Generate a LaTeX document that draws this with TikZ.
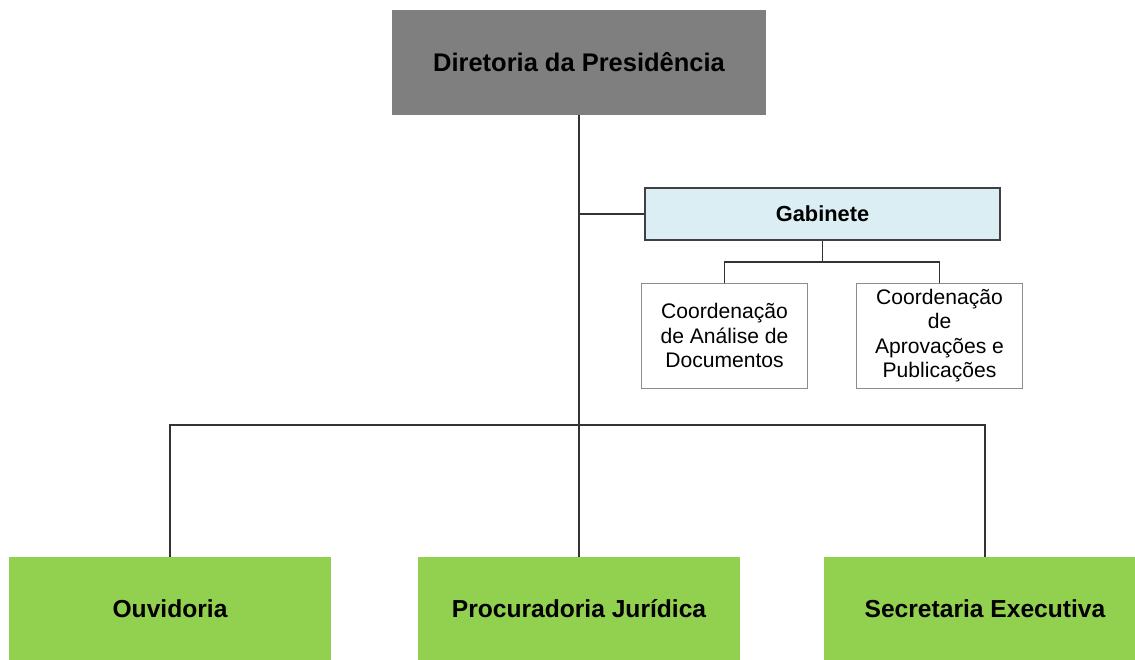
\documentclass[tikz,border=0pt]{standalone}
\usepackage{fontspec}
\setmainfont{Liberation Sans}
\definecolor{diretoria}{HTML}{7F7F7F}
\definecolor{gabinete}{HTML}{DAEEF3}
\definecolor{verde}{HTML}{92D050}
\begin{document}
\begin{tikzpicture}[
        linha/.style={draw=black!80, line width=0.8pt},
        unidade/.style={fill=verde, minimum width=6.44cm, minimum height=2.06cm, inner sep=0pt,
            font=\fontsize{14}{17}\selectfont\bfseries},
        coordbox/.style={draw=black!45, fill=white, minimum width=3.32cm, minimum height=2.1cm,
            inner sep=0pt, align=center, font=\fontsize{12}{13.8}\selectfont}
    ]
        \useasboundingbox (0,0) rectangle (22.7,13.2);

        \node [fill=diretoria, minimum width=7.48cm, minimum height=2.1cm, inner sep=0pt,
            font=\fontsize{14.5}{17}\selectfont\bfseries] (dir) at (11.58,11.95) {Diretoria da Presidência};
        \node [fill=gabinete, draw=black!75, line width=0.8pt, minimum width=7.1cm, minimum height=1.04cm,
            inner sep=0pt, font=\fontsize{12.4}{15}\selectfont\bfseries] (gab) at (16.45,8.92) {Gabinete};

        \node [coordbox] (cad) at (14.49,6.49) {Coordenação\\de Análise de\\Documentos};
        \node [coordbox] (cap) at (18.79,6.49) {Coordenação\\de\\Aprovações e\\Publicações};

        \node [unidade] (ouv) at (3.4,1.03) {Ouvidoria};
        \node [unidade] (proc) at (11.58,1.03) {Procuradoria Jurídica};
        \node [unidade] (sec) at (19.7,1.03) {Secretaria Executiva};

        \coordinate (meio) at (11.58,4.7);
        \coordinate (gj) at (16.45,7.96);

        % linha principal
        \draw [linha] (dir.south) -- (meio);
        \draw [linha] (dir.south |- gab.west) -- (gab.west);

        % gabinete
        \draw [linha] (gab.south) -- (gj);
        \draw [linha] (cad.north) -- (cad.north |- gj) -- (cap.north |- gj) -- (cap.north);

        % unidades
        \draw [linha] (ouv.north) -- (ouv.north |- meio) -- (sec.north |- meio) -- (sec.north);
        \draw [linha] (meio) -- (proc.north);
\end{tikzpicture}
\end{document}
